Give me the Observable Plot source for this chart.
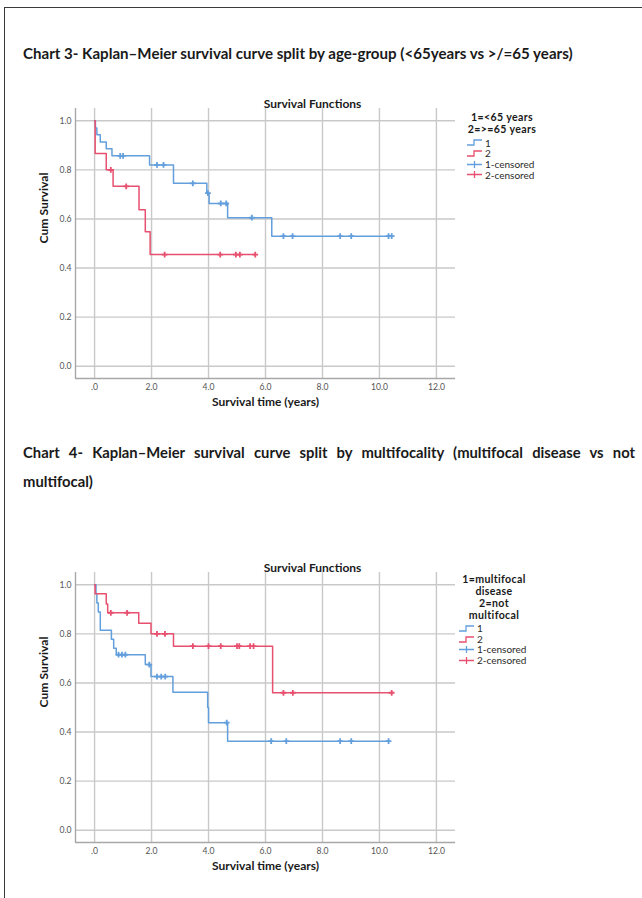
<!DOCTYPE html>
<html>
<head>
<meta charset="utf-8">
<script src="https://cdn.jsdelivr.net/npm/d3@7"></script>
<script src="https://cdn.jsdelivr.net/npm/@observablehq/plot@0.6"></script>
<style>
  body { margin: 0; background: #fff; }
  #page { position: relative; width: 642px; height: 898px; overflow: hidden;
          font-family: Lato, "Open Sans", sans-serif; color: #1a1a1a; }
  .sheet { position: absolute; left: 4px; top: 7px; width: 700px; height: 950px;
           border-left: 1.5px solid #3a3a3a; border-top: 1.5px solid #3a3a3a; }
  .heading { position: absolute; left: 23px; font-weight: bold; font-size: 15.1px; white-space: nowrap; line-height: 18px; }
  .heading.just { width: 612px; text-align: justify; text-align-last: justify; white-space: normal; font-size: 14.8px; }
  .chart { position: absolute; left: 0; }
  .legend { position: absolute; font-size: 10px; line-height: 10.7px; color: #2a2a2a; }
  .legend .ttl { font-weight: bold; font-size: 10.6px; line-height: 12px; text-align: center;
                 color: #1a1a1a; letter-spacing: 0.35px; }
  .legend .row { display: flex; align-items: center; height: 10.7px; }
  .legend svg { margin-right: 2px; }
</style>
</head>
<body>
<div id="page">
  <div class="sheet"></div>
  <div class="heading" style="top:44px">Chart 3- Kaplan–Meier survival curve split by age-group (&lt;65years vs &gt;/=65 years)</div>
  <div class="heading just" style="top:443px">Chart 4- Kaplan–Meier survival curve split by multifocality (multifocal disease vs not</div>
  <div class="heading" style="top:472px; font-size:14.8px">multifocal)</div>
  <div class="chart" id="chart3" style="top:88px"></div>
  <div class="chart" id="chart4" style="top:552px"></div>
  <div class="legend" id="legend3" style="left:452px; top:110.5px; width:100px"></div>
  <div class="legend" id="legend4" style="left:444px; top:573px; width:100px"></div>
</div>
<script>
// Axis ticks and their printed labels
const xTicks = [0, 2, 4, 6, 8, 10, 12];
const xTickLabels = [".0", "2.0", "4.0", "6.0", "8.0", "10.0", "12.0"];
const yTicks = [0, 0.2, 0.4, 0.6, 0.8, 1.0];
const yTickLabels = ["0.0", "0.2", "0.4", "0.6", "0.8", "1.0"];

// Chart 3 – age group. Event times (years) with survival after each event, and censored times.
const under65EventTimes = [0.03, 0.08, 0.20, 0.41, 0.61, 1.93, 2.77, 3.94, 4.02, 4.67, 6.22];
const under65Survival   = [0.971, 0.943, 0.914, 0.886, 0.857, 0.820, 0.745, 0.705, 0.663, 0.605, 0.530];
const under65Censored   = [0.90, 1.00, 2.19, 2.42, 3.45, 3.98, 4.43, 4.62, 5.52, 6.63, 6.95, 8.62, 9.01, 10.32, 10.43];
const over65EventTimes  = [0.02, 0.41, 0.65, 1.56, 1.78, 1.95];
const over65Survival    = [0.867, 0.800, 0.733, 0.637, 0.548, 0.455];
const over65Censored    = [0.57, 1.11, 2.46, 4.41, 4.96, 5.10, 5.64];

// Chart 4 – multifocality
const multifocalEventTimes = [0.05, 0.08, 0.13, 0.20, 0.59, 0.67, 0.76, 1.78, 1.98, 2.75, 3.97, 4.00, 4.67];
const multifocalSurvival   = [0.963, 0.926, 0.889, 0.815, 0.778, 0.741, 0.715, 0.675, 0.626, 0.562, 0.500, 0.438, 0.363];
const multifocalCensored   = [0.84, 0.96, 1.08, 1.92, 2.19, 2.34, 2.48, 4.64, 6.20, 6.73, 8.62, 9.01, 10.32];
const notMultifocalEventTimes = [0.02, 0.41, 0.46, 1.55, 1.98, 2.77, 6.25];
const notMultifocalSurvival   = [0.963, 0.922, 0.886, 0.843, 0.800, 0.750, 0.560];
const notMultifocalCensored   = [0.57, 1.14, 2.19, 2.47, 3.45, 4.00, 4.43, 5.00, 5.08, 5.46, 5.58, 6.63, 6.96, 10.43];

// Legend keys
const ageLegendTitle = ["1=<65 years", "2=>=65 years"];
const focalLegendTitle = ["1=multifocal", "disease", "2=not", "multifocal"];
const legendEntries = ["1", "2", "1-censored", "2-censored"];

const BLUE = "#639fdc";
const RED = "#e8506f";
const FONT = "Lato, 'Open Sans', sans-serif";

// Step curve from (0, 1) through each event, extended to the last follow-up time
function stepSeries(times, surv, censored) {
  const end = Math.max(times[times.length - 1], ...censored);
  const pts = [{t: 0, s: 1}];
  times.forEach((t, i) => pts.push({t, s: surv[i]}));
  pts.push({t: end, s: surv[surv.length - 1]});
  return pts;
}
// Survival level at a censored time
function censorPoints(times, surv, censored) {
  return censored.map(t => {
    let s = 1;
    times.forEach((et, i) => { if (et <= t) s = surv[i]; });
    return {t, s};
  });
}

function kmChart(groups) {
  const marks = [
    Plot.gridX(xTicks, {stroke: "#c9c9c9", strokeOpacity: 1, strokeWidth: 1.4}),
    Plot.gridY(yTicks, {stroke: "#c9c9c9", strokeOpacity: 1, strokeWidth: 1.4}),
    Plot.ruleX([-0.67], {stroke: "#a8a8a8", strokeWidth: 1.4}),
    Plot.ruleY([-0.05], {stroke: "#a8a8a8", strokeWidth: 1.4}),
    Plot.axisX(xTicks, {tickSize: 0, tickPadding: 5, fontSize: 8.6, fill: "#555",
      tickFormat: d => xTickLabels[xTicks.indexOf(d)], label: null}),
    Plot.axisY(yTicks, {tickSize: 0, tickPadding: 4, fontSize: 8.6, fill: "#555",
      tickFormat: d => yTickLabels[yTicks.indexOf(d)], label: null}),
    Plot.text(["Cum Survival"], {text: d => d, frameAnchor: "left", dx: -31, rotate: -90,
      fontWeight: "bold", fontSize: 12.2, fill: "#1a1a1a"}),
    Plot.text(["Survival time (years)"], {text: d => d, frameAnchor: "bottom", dy: 27,
      fontWeight: "bold", fontSize: 12, fill: "#1a1a1a"}),
    Plot.text(["Survival Functions"], {text: d => d, frameAnchor: "top", dx: 47, dy: -9,
      fontWeight: "bold", fontSize: 12, fill: "#1a1a1a"})
  ];
  for (const g of groups) {
    marks.push(Plot.line(stepSeries(g.times, g.surv, g.censored),
      {x: "t", y: "s", curve: "step-after", stroke: g.color, strokeWidth: 1.5}));
    marks.push(Plot.dot(censorPoints(g.times, g.surv, g.censored),
      {x: "t", y: "s", symbol: "plus", r: 2, stroke: g.color, strokeWidth: 1.8}));
  }
  return Plot.plot({
    width: 470, height: 332,
    marginLeft: 75, marginRight: 15, marginTop: 20, marginBottom: 42,
    x: {domain: [-0.67, 12.67]},
    y: {domain: [-0.05, 1.05]},
    style: {fontFamily: FONT, background: "transparent", overflow: "visible"},
    marks
  });
}

document.getElementById("chart3").append(kmChart([
  {times: under65EventTimes, surv: under65Survival, censored: under65Censored, color: BLUE},
  {times: over65EventTimes, surv: over65Survival, censored: over65Censored, color: RED}
]));
document.getElementById("chart4").append(kmChart([
  {times: multifocalEventTimes, surv: multifocalSurvival, censored: multifocalCensored, color: BLUE},
  {times: notMultifocalEventTimes, surv: notMultifocalSurvival, censored: notMultifocalCensored, color: RED}
]));

// Legends: group key (one wrapped block) followed by step and censor samples
function sample(kind, color) {
  const path = kind === "step" ? "M0,7 H7 V2 H15" : "M0,4.5 H15 M7.5,1 V8";
  return `<svg width="16" height="9"><path d="${path}" fill="none" stroke="${color}" stroke-width="1.3"/></svg>`;
}
function legend(el, titleLines, sampleLeft, gap) {
  const kinds = [["step", BLUE], ["step", RED], ["cross", BLUE], ["cross", RED]];
  const ttl = document.createElement("div");
  ttl.className = "ttl";
  ttl.innerText = titleLines.join("\n");
  el.append(ttl);
  const rows = document.createElement("div");
  rows.style.marginLeft = sampleLeft + "px";
  rows.style.marginTop = gap + "px";
  rows.innerHTML = legendEntries.map((t, i) =>
    `<div class="row">${sample(kinds[i][0], kinds[i][1])}<span>${t}</span></div>`).join("");
  el.append(rows);
}
legend(document.getElementById("legend3"), ageLegendTitle, 15, 3);
legend(document.getElementById("legend4"), focalLegendTitle, 15, 2);
</script>
</body>
</html>
